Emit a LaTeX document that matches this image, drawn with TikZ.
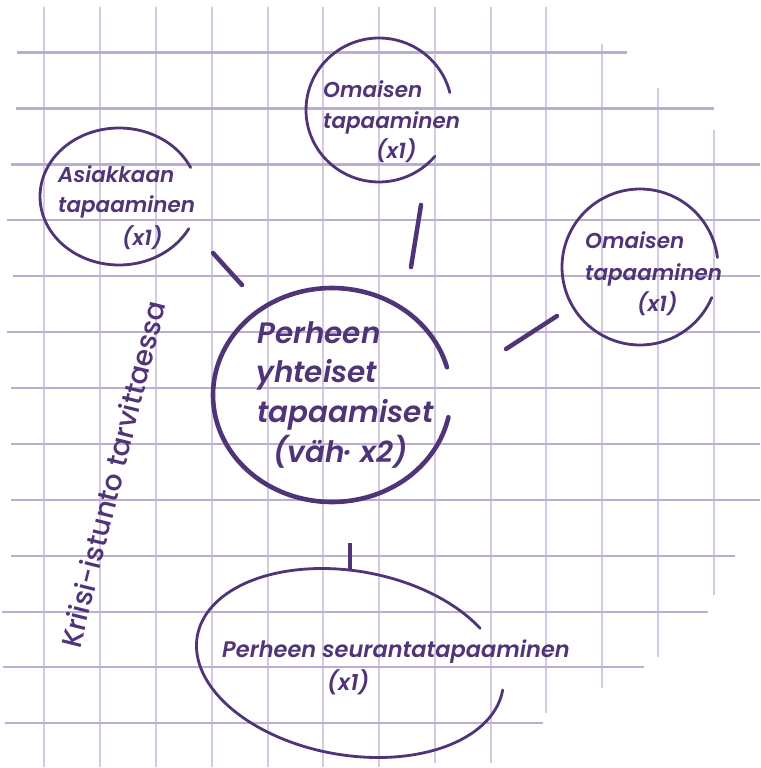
\documentclass[tikz,border=0pt]{standalone}
\usepackage{fontspec}
\setmainfont{Poppins}[BoldFont={Poppins SemiBold}, BoldItalicFont={Poppins SemiBold Italic}]
\newfontfamily\medfont{Poppins Medium}
\definecolor{ink}{RGB}{80,52,120}
\definecolor{gridh}{RGB}{188,174,210}
\definecolor{gridv}{RGB}{212,203,226}
\tikzset{
  gh/.style={draw=gridh, line width=2.6pt},
  gv/.style={draw=gridv, line width=1.4pt},
  outline/.style={draw=ink, line width=2.8pt, line cap=round},
  bigoutline/.style={draw=ink, line width=4.6pt, line cap=round},
  stub/.style={draw=ink, line width=4.5pt, line cap=round},
  lbl/.style={text=ink, font=\fontsize{21.5}{21.5}\selectfont\bfseries\itshape, inner sep=0pt, anchor=base west},
  biglbl/.style={text=ink, font=\fontsize{29.5}{29.5}\selectfont\bfseries\itshape, inner sep=0pt, anchor=base west},
  botlbl/.style={text=ink, font=\fontsize{22.5}{22.5}\selectfont\bfseries\itshape, inner sep=0pt, anchor=base west},
  rotlbl/.style={text=ink, font=\fontsize{28}{28}\selectfont\medfont, inner sep=0pt, anchor=base west, rotate=76}
}
\begin{document}
\begin{tikzpicture}[x=1pt,y=-1pt]
\useasboundingbox (0,0) rectangle (760,768);
\fill[white] (0,0) rectangle (760,768);
% vertical grid lines
\foreach \xx/\ta/\tb in {44/7/767,100/7/767,156/7/767,212/7/767,268/7/767,323/7/767,379/7/767,435/7/763,491/7/763,546/7/713,602/44/688,658/88/657,714/130/595}
  \draw[gv] (\xx,\ta) -- (\xx,\tb);
% horizontal grid lines
\foreach \yy/\la/\lb in {52.7/17/627,108.5/16/714,164.3/11/760,220/7/760,276/13/760,332/7/760,388/11/760,444/11/760,500/11/760,556/11/735,612/2/708,667/3/644,723/5/543}
  \draw[gh] (\la,\yy) -- (\lb,\yy);

% ellipses (open, hand-drawn)
\draw[outline] plot[smooth, domain=25:332, samples=90, variable=\t] ({119+79*cos(\t)}, {196.5-68.5*sin(\t)});
\draw[outline] plot[smooth, domain=14:320, samples=90, variable=\t] ({379+73*cos(\t)}, {110-72*sin(\t)});
\draw[outline] plot[smooth, domain=7:337, samples=90, variable=\t] ({640+78*cos(\t)}, {267-78*sin(\t)});
\draw[bigoutline] plot[smooth, domain=15:348, samples=100, variable=\t] ({332+119*cos(\t)}, {395-107*sin(\t)});
\draw[outline] plot[smooth, domain=38:360, samples=110, variable=\t] ({350+152.7*cos(\t)+16*sin(\t)}, {663-(-26.9*cos(\t)+90.6*sin(\t))});

% connector stubs
\coordinate (s1a) at (213,253); \coordinate (s1b) at (242,285);
\coordinate (s2a) at (421,205); \coordinate (s2b) at (411,267);
\coordinate (s3a) at (557,316); \coordinate (s3b) at (506,349);
\coordinate (s4a) at (350,543); \coordinate (s4b) at (350,571);
\draw[stub] (s1a) -- (s1b);
\draw[stub] (s2a) -- (s2b);
\draw[stub] (s3a) -- (s3b);
\draw[stub, line cap=butt] (s4a) -- (s4b);

% labels
\node[lbl] (a1) at (58,182) {Asiakkaan};
\node[lbl] (a2) at (58,212) {tapaaminen};
\node[lbl] (a3) at (122,245) {(x1)};

\node[lbl] (o1) at (323,97) {Omaisen};
\node[lbl] (o2) at (323,128) {tapaaminen};
\node[lbl] (o3) at (376,158) {(x1)};

\node[lbl] (r1) at (585,248) {Omaisen};
\node[lbl] (r2) at (585,280) {tapaaminen};
\node[lbl] (r3) at (637,311) {(x1)};

\node[biglbl] (p1) at (257,343) {Perheen};
\node[biglbl] (p2) at (256,382) {yhteiset};
\node[biglbl] (p3) at (257,422) {tapaamiset};
\node[biglbl] (p4) at (273,462) {(väh· x2)};

\node[botlbl] (b1) at (222,657) {Perheen seurantatapaaminen};
\node[botlbl] (b2) at (327,690) {(x1)};

\node[rotlbl] (k) at (80,650) {Kriisi-istunto tarvittaessa};
\end{tikzpicture}
\end{document}
